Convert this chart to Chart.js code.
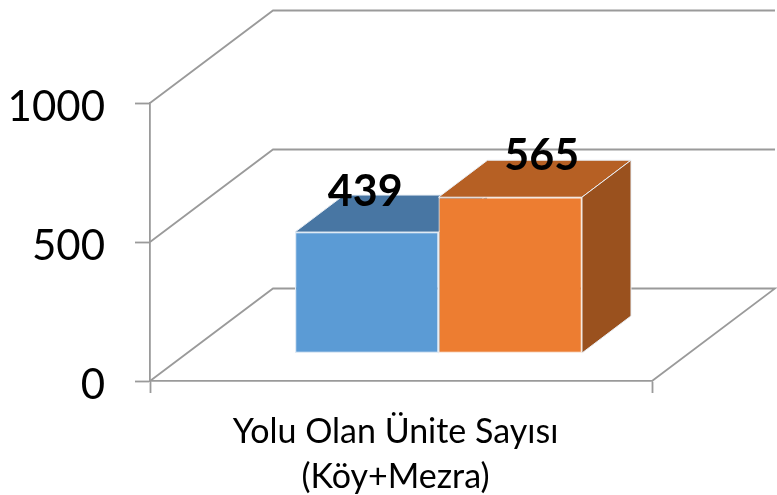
<!DOCTYPE html>
<html>
<head>
<meta charset="utf-8">
<style>html,body{margin:0;padding:0;background:#fff}canvas{display:block}</style>
<script src="https://cdn.jsdelivr.net/npm/chart.js@4"></script>
</head>
<body>
<canvas id="c" width="777" height="495"></canvas>
<script>
const categories = [["Yolu Olan Ünite Sayısı", "(Köy+Mezra)"]];
const seriesA = [439];
const seriesB = [565];
const yMin = 0, yMax = 1000, yStep = 500;

const FONT = "Lato, Carlito, Calibri, sans-serif";
const GRID = "#9a9a9a";
const wall = {dx: 123, dy: -92.5};       // depth of the floor and back wall
const front = {dx: 37.5, dy: -27.5, k: 0.995}; // bar front plane inside the floor
const barDepth = {dx: 49, dy: -37};
const faces = [
  {top: "#4876A3", side: "#3F6A94", lx: -1.5, ly: -40},
  {top: "#B66024", side: "#9A511E", lx: 31.5, ly: -41}
];

const box3d = {
  id: "box3d",
  beforeDatasetsDraw(chart) {
    const {ctx, scales: {x, y}} = chart;
    // walls and floor
    ctx.save();
    ctx.strokeStyle = GRID;
    ctx.lineWidth = 1.8;
    ctx.lineJoin = "miter";
    y.ticks.forEach(t => {
      const py = y.getPixelForValue(t.value);
      ctx.beginPath();
      ctx.moveTo(x.left, py);
      ctx.lineTo(x.left + wall.dx, py + wall.dy);
      ctx.lineTo(x.right + wall.dx, py + wall.dy);
      if (t.value === yMin) ctx.lineTo(x.right, py);
      ctx.stroke();
    });
    // top and side of each bar
    chart.getSortedVisibleDatasetMetas().slice().sort((a, b) => a.index - b.index).forEach(meta => {
      const f = faces[meta.index];
      meta.data.forEach(el => {
        const p = el.getProps(["x", "y", "base", "width"], true);
        const L = p.x - p.width / 2 + front.dx, R = p.x + p.width / 2 + front.dx;
        const B = p.base + front.dy;
        const T = B + (p.y - p.base) * front.k;
        ctx.strokeStyle = "#e9eef4";
        ctx.lineWidth = 1;
        ctx.fillStyle = f.top;
        ctx.beginPath();
        ctx.moveTo(L, T); ctx.lineTo(L + barDepth.dx, T + barDepth.dy);
        ctx.lineTo(R + barDepth.dx, T + barDepth.dy); ctx.lineTo(R, T);
        ctx.closePath(); ctx.fill(); ctx.stroke();
        ctx.fillStyle = f.side;
        ctx.beginPath();
        ctx.moveTo(R, T); ctx.lineTo(R + barDepth.dx, T + barDepth.dy);
        ctx.lineTo(R + barDepth.dx, B + barDepth.dy); ctx.lineTo(R, B);
        ctx.closePath(); ctx.fill(); ctx.stroke();
      });
    });
    ctx.restore();
  },
  beforeDatasetDraw(chart, args) {
    const {ctx} = chart;
    const base = chart.scales.y.getPixelForValue(yMin);
    ctx.save();
    ctx.translate(front.dx, front.dy + base);
    ctx.scale(1, front.k);
    ctx.translate(0, -base);
  },
  afterDatasetDraw(chart) {
    chart.ctx.restore();
  },
  afterDatasetsDraw(chart) {
    const {ctx} = chart;
    ctx.save();
    ctx.font = "bold 43px " + FONT;
    ctx.fillStyle = "#000";
    ctx.textAlign = "center";
    ctx.textBaseline = "middle";
    chart.data.datasets.forEach((ds, i) => {
      const el = chart.getDatasetMeta(i).data[0];
      const p = el.getProps(["x", "y", "base"], true);
      const T = p.base + front.dy + (p.y - p.base) * front.k;
      ctx.fillText(String(ds.data[0]), p.x + front.dx + faces[i].lx, T + faces[i].ly);
    });
    ctx.restore();
  }
};

new Chart(document.getElementById("c"), {
  type: "bar",
  data: {
    labels: categories,
    datasets: [
      {label: "A", data: seriesA, backgroundColor: "#5B9BD5", borderColor: "#dfeaf5", borderWidth: 1.2, borderSkipped: false},
      {label: "B", data: seriesB, backgroundColor: "#ED7D31", borderColor: "#fbeadd", borderWidth: 1.2, borderSkipped: false}
    ]
  },
  plugins: [box3d],
  options: {
    responsive: false,
    animation: false,
    devicePixelRatio: 1,
    layout: {padding: {top: 103, right: 125, left: 0, bottom: 0}},
    plugins: {legend: {display: false}, tooltip: {enabled: false}},
    datasets: {bar: {categoryPercentage: 0.5717, barPercentage: 1, clip: false}},
    scales: {
      x: {
        afterFit: s => { s.height = 114; },
        grid: {drawOnChartArea: false, drawTicks: true, tickLength: 12, tickColor: GRID, tickWidth: 1.8},
        border: {color: GRID, width: 1.8},
        ticks: {color: "#000", font: {family: FONT, size: 34, lineHeight: 1.33}, padding: 16, maxRotation: 0, labelOffset: -5.5}
      },
      y: {
        min: yMin, max: yMax,
        afterFit: s => { s.width = 150; },
        grid: {drawOnChartArea: false, drawTicks: true, tickLength: 15, tickColor: GRID, tickWidth: 1.8},
        border: {color: GRID, width: 1.8},
        ticks: {stepSize: yStep, color: "#000", font: {family: FONT, size: 42}, padding: 30, autoSkip: false, labelOffset: 4, callback: v => String(v)}
      }
    }
  }
});
</script>
</body>
</html>
